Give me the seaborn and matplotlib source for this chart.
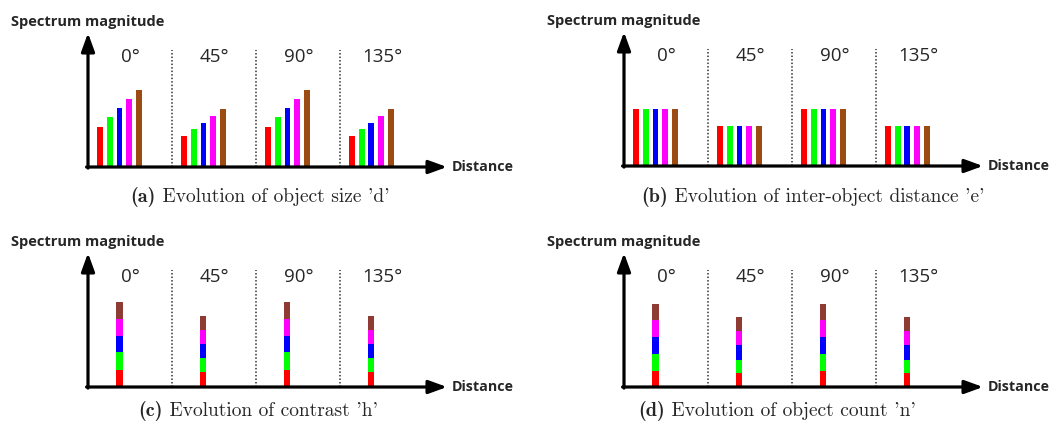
import numpy as np
import pandas as pd
import matplotlib
matplotlib.use("Agg")
import matplotlib.pyplot as plt
from matplotlib.offsetbox import TextArea, HPacker, AnnotationBbox
import seaborn as sns

sns.set_style("white")
plt.rcParams['font.family'] = ['Open Sans', 'DejaVu Sans']

# data (bar heights, arbitrary units)
angles = ['0°', '45°', '90°', '135°']
components = ['c1', 'c2', 'c3', 'c4', 'c5']
colors = ['#ff0000', '#00ff00', '#0000ff', '#ff00ff', '#9c4b12']
stack_colors = ['#ff0000', '#00ff00', '#0000ff', '#ff00ff', '#8e3b33']

size_d = [[40, 50, 59, 68, 77], [31, 38, 44, 51, 58],
          [40, 50, 59, 68, 77], [31, 38, 44, 51, 58]]
dist_e = [[57, 57, 57, 57, 57], [40, 40, 40, 40, 40],
          [57, 57, 57, 57, 57], [40, 40, 40, 40, 40]]
contrast_h = [[17, 17.7, 16.7, 16.3, 17], [15.3, 13.3, 14.3, 14, 14.3],
              [17, 17.7, 16.7, 16.3, 17], [15.3, 13.3, 14.3, 14, 14.3]]
count_n = [[15.7, 17.7, 16.7, 16.7, 16.7], [14, 13, 15, 13.7, 14],
           [15.7, 17.7, 16.7, 16.7, 16.7], [14, 13, 15, 13.7, 14]]

cap_tags = ['(a)', '(b)', '(c)', '(d)']
cap_texts = [" Evolution of object size 'd'",
             " Evolution of inter-object distance 'e'",
             " Evolution of contrast 'h'",
             " Evolution of object count 'n'"]

W, H = 1051, 423
fig = plt.figure(figsize=(W / 100, H / 100), dpi=100)


def to_frame(vals):
    rows = []
    for a, v in zip(angles, vals):
        for c, h in zip(components, v):
            rows.append({'angle': a, 'component': c, 'value': h})
    return pd.DataFrame(rows)


def decorate(ax):
    ax.set_xlim(-0.375, 3.9)
    ax.set_ylim(0, 134)
    ax.axis('off')
    arrow = dict(arrowstyle='-|>,head_length=1.1,head_width=0.4', lw=2.3,
                 color='black', mutation_scale=10, shrinkA=0, shrinkB=0)
    ax.annotate('', xy=(1, 0), xytext=(-0.004, 0), xycoords='axes fraction',
                arrowprops=arrow, annotation_clip=False)
    ax.annotate('', xy=(0, 1), xytext=(0, -0.008), xycoords='axes fraction',
                arrowprops=arrow, annotation_clip=False)
    for i in range(3):
        ax.plot([i + 0.625, i + 0.625], [0, 117], color='#333333', lw=1.1,
                ls=(0, (1, 1.3)), clip_on=False)
    for i, a in enumerate(angles):
        ax.text(i + 0.13, 110, a, ha='center', va='center', fontsize=13.5)
    ax.text(0.212, 1.085, 'Spectrum magnitude', transform=ax.transAxes,
            ha='right', va='center', fontsize=10.5, fontweight='bold')
    ax.text(1.012, 0, 'Distance', transform=ax.transAxes, ha='left',
            va='center', fontsize=10.3, fontweight='bold')


def grouped(ax, vals):
    df = to_frame(vals)
    sns.barplot(data=df, x='angle', y='value', hue='component', order=angles,
                hue_order=components, palette=colors, saturation=1,
                width=0.58, gap=0.4, linewidth=0, legend=False, ax=ax)
    decorate(ax)


def stacked(ax, vals):
    arr = np.array(vals)
    cum = np.cumsum(arr, axis=1)
    for k in range(len(components) - 1, -1, -1):
        sns.barplot(x=angles, y=cum[:, k], order=angles,
                    color=stack_colors[k], saturation=1, width=0.072,
                    linewidth=0, ax=ax)
    decorate(ax)


# axes placed in pixel units: left edge at y-axis, bottom at baseline
boxes = [(88, 167), (624, 166), (88, 387), (624, 387)]
axes = []
for x0, yb in boxes:
    axes.append(fig.add_axes([x0 / W, 1 - yb / H, 359 / W, 134 / H]))

grouped(axes[0], size_d)
grouped(axes[1], dist_e)
stacked(axes[2], contrast_h)
stacked(axes[3], count_n)

# captions: bold tag + roman text, computer modern look
cap_pos = [(260, 197), (813, 197), (258, 411), (777, 411)]
for (cx, cy), tag, txt in zip(cap_pos, cap_tags, cap_texts):
    box = HPacker(children=[
        TextArea(tag, textprops=dict(family='cmb10', fontsize=14.5)),
        TextArea(txt, textprops=dict(family='cmr10', fontsize=14))],
        align='baseline', pad=0, sep=0)
    ab = AnnotationBbox(box, (cx / W, 1 - cy / H), xycoords='figure fraction',
                        box_alignment=(0.5, 0.5), frameon=False, pad=0)
    fig.add_artist(ab)

fig.savefig('out.png', dpi=100)
